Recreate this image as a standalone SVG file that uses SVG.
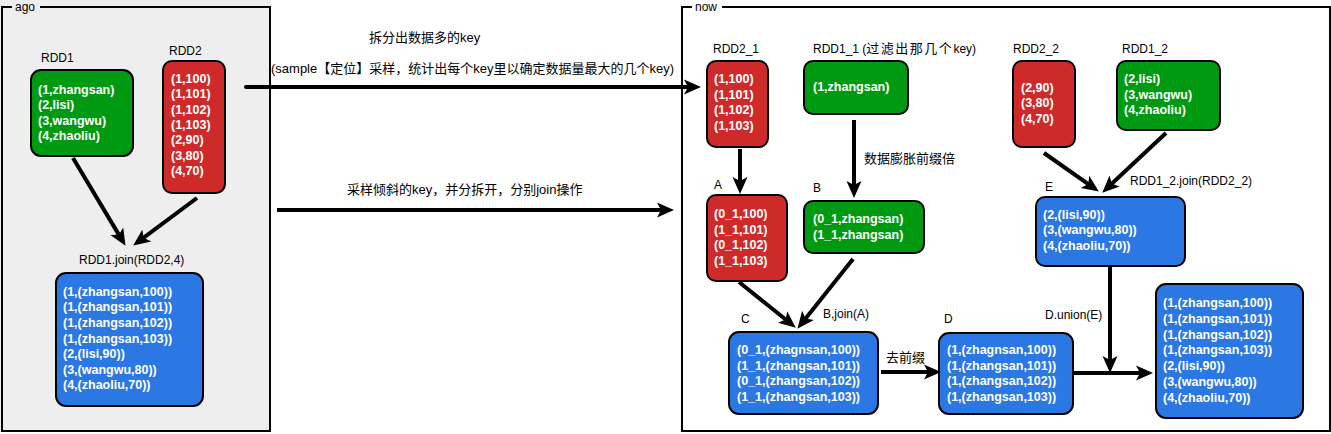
<svg xmlns="http://www.w3.org/2000/svg" width="1331" height="434" viewBox="0 0 1331 434">
<style>
.bx{stroke:#000;stroke-width:2}
.g{fill:#009a12}
.r{fill:#cf2a2a}
.b{fill:#2b78e4}
.t{fill:#fff;font-family:"Liberation Sans","Noto Sans CJK SC",sans-serif;font-size:12.5px;font-weight:bold}
.l{fill:#000;font-family:"Liberation Sans","Noto Sans CJK SC",sans-serif;font-size:12px}
.c{fill:#000;font-family:"Liberation Sans","Noto Sans CJK SC",sans-serif;font-size:13px}
.fr{fill:none;stroke:#000;stroke-width:2}
.ar{fill:none;stroke:#000;stroke-width:4;marker-end:url(#ah)}
</style>
<defs>
<marker id="ah" markerUnits="userSpaceOnUse" markerWidth="18" markerHeight="18" viewBox="0 0 18 18" refX="8" refY="9" orient="auto">
<path d="M0,1.5 L17,9 L0,16.5 L4,9 Z" fill="#000"/>
</marker>
</defs>
<g id="panel-ago">
<rect x="0" y="0" width="271" height="432" fill="#eeeeee"/>
<path class="fr" d="M12,7 H2 V431 H270 V7 H40"/>
<text x="15" y="11" class="l" font-size="11">ago</text>
</g>
<g id="panel-now">
<path class="fr" d="M692,7 H682 V431 H1330 V7 H722"/>
<text x="695" y="11" class="l" font-size="11">now</text>
</g>
<g id="rdd1">
<text x="41" y="62" class="l">RDD1</text>
<rect x="31" y="70" width="102" height="86" rx="10" class="bx g"/>
<text class="t"><tspan x="38" y="94">(1,zhangsan)</tspan><tspan x="38" y="109">(2,lisi)</tspan><tspan x="38" y="125">(3,wangwu)</tspan><tspan x="38" y="140">(4,zhaoliu)</tspan></text>
</g>
<g id="rdd2">
<text x="169" y="55" class="l">RDD2</text>
<rect x="163" y="61" width="62" height="132" rx="9" class="bx r"/>
<text class="t"><tspan x="171" y="83">(1,100)</tspan><tspan x="171" y="98">(1,101)</tspan><tspan x="171" y="114">(1,102)</tspan><tspan x="171" y="129">(1,103)</tspan><tspan x="171" y="144">(2,90)</tspan><tspan x="171" y="160">(3,80)</tspan><tspan x="171" y="175">(4,70)</tspan></text>
</g>
<g id="join-left">
<text x="79" y="264" class="l">RDD1.join(RDD2,4)</text>
<rect x="56" y="273" width="147" height="133" rx="10" class="bx b"/>
<text class="t"><tspan x="63" y="296">(1,(zhangsan,100))</tspan><tspan x="63" y="311">(1,(zhangsan,101))</tspan><tspan x="63" y="327">(1,(zhangsan,102))</tspan><tspan x="63" y="343">(1,(zhangsan,103))</tspan><tspan x="63" y="358">(2,(lisi,90))</tspan><tspan x="63" y="374">(3,(wangwu,80))</tspan><tspan x="63" y="389">(4,(zhaoliu,70))</tspan></text>
</g>
<g id="rdd2_1">
<text x="713" y="53" class="l">RDD2_1</text>
<rect x="707" y="61" width="61" height="86" rx="9" class="bx r"/>
<text class="t"><tspan x="714" y="83">(1,100)</tspan><tspan x="714" y="99">(1,101)</tspan><tspan x="714" y="114">(1,102)</tspan><tspan x="714" y="130">(1,103)</tspan></text>
</g>
<g id="rdd1_1">
<text x="813" y="53" class="l" font-size="12.5">RDD1_1 (<tspan font-size="13" letter-spacing="1.5">过滤出那几个</tspan>key)</text>
<rect x="804" y="61" width="104" height="53" rx="9" class="bx g"/>
<text x="813" y="91" class="t">(1,zhangsan)</text>
</g>
<g id="rdd2_2">
<text x="1013" y="53" class="l">RDD2_2</text>
<rect x="1013" y="61" width="62" height="86" rx="9" class="bx r"/>
<text class="t"><tspan x="1021" y="92">(2,90)</tspan><tspan x="1021" y="107">(3,80)</tspan><tspan x="1021" y="123">(4,70)</tspan></text>
</g>
<g id="rdd1_2">
<text x="1122" y="53" class="l">RDD1_2</text>
<rect x="1117" y="61" width="103" height="69" rx="9" class="bx g"/>
<text class="t"><tspan x="1124" y="83">(2,lisi)</tspan><tspan x="1124" y="99">(3,wangwu)</tspan><tspan x="1124" y="114">(4,zhaoliu)</tspan></text>
</g>
<g id="node-a">
<text x="714" y="189" class="l">A</text>
<rect x="707" y="195" width="80" height="86" rx="9" class="bx r"/>
<text class="t"><tspan x="714" y="218">(0_1,100)</tspan><tspan x="714" y="234">(1_1,101)</tspan><tspan x="714" y="249">(0_1,102)</tspan><tspan x="714" y="265">(1_1,103)</tspan></text>
</g>
<g id="node-b">
<text x="813" y="192" class="l">B</text>
<rect x="804" y="201" width="120" height="52" rx="9" class="bx g"/>
<text class="t"><tspan x="813" y="223">(0_1,zhangsan)</tspan><tspan x="813" y="239">(1_1,zhangsan)</tspan></text>
</g>
<g id="node-e">
<text x="1045" y="191" class="l">E</text>
<text x="1130" y="185" class="l">RDD1_2.join(RDD2_2)</text>
<rect x="1036" y="197" width="149" height="69" rx="9" class="bx b"/>
<text class="t"><tspan x="1043" y="219">(2,(lisi,90))</tspan><tspan x="1043" y="234">(3,(wangwu,80))</tspan><tspan x="1043" y="250">(4,(zhaoliu,70))</tspan></text>
</g>
<g id="node-c">
<text x="741" y="323" class="l">C</text>
<text x="823" y="318" class="l">B,join(A)</text>
<rect x="729" y="332" width="149" height="82" rx="10" class="bx b"/>
<text class="t"><tspan x="737" y="354">(0_1,(zhagnsan,100))</tspan><tspan x="737" y="370">(1_1,(zhangsan,101))</tspan><tspan x="737" y="385">(0_1,(zhangsan,102))</tspan><tspan x="737" y="401">(1_1,(zhangsan,103))</tspan></text>
</g>
<g id="node-d">
<text x="944" y="323" class="l">D</text>
<rect x="939" y="333" width="134" height="81" rx="10" class="bx b"/>
<text class="t"><tspan x="947" y="354">(1,(zhagnsan,100))</tspan><tspan x="947" y="370">(1,(zhangsan,101))</tspan><tspan x="947" y="385">(1,(zhangsan,102))</tspan><tspan x="947" y="401">(1,(zhangsan,103))</tspan></text>
</g>
<g id="node-final">
<rect x="1156" y="284" width="147" height="134" rx="10" class="bx b"/>
<text class="t"><tspan x="1163" y="307">(1,(zhangsan,100))</tspan><tspan x="1163" y="323">(1,(zhangsan,101))</tspan><tspan x="1163" y="339">(1,(zhangsan,102))</tspan><tspan x="1163" y="354">(1,(zhangsan,103))</tspan><tspan x="1163" y="370">(2,(lisi,90))</tspan><tspan x="1163" y="386">(3,(wangwu,80))</tspan><tspan x="1163" y="402">(4,(zhaoliu,70))</tspan></text>
</g>
<g id="connectors">
<path class="ar" d="M73,158 L120.9,238.1"/>
<path class="ar" d="M197,198 L140.4,240.2"/>
<path class="ar" stroke-linecap="round" d="M246,87 H692"/>
<path class="ar" d="M277,210 H665"/>
<path class="ar" d="M740,149 V185"/>
<path class="ar" d="M854,120 V189"/>
<path class="ar" d="M739,282 L788.8,322"/>
<path class="ar" d="M853,259 L803,321.7"/>
<path class="ar" d="M881,372 H932"/>
<path class="ar" d="M1073,373 H1144"/>
<path class="ar" d="M1110,266 V364"/>
<path class="ar" d="M1044,153 L1091.5,186.4"/>
<path class="ar" d="M1166,133 L1108.8,186.5"/>
<text x="369" y="42" class="c">拆分出数据多的key</text>
<text x="271" y="73" class="c">(sample【定位】采样，统计出每个key里以确定数据量最大的几个key)</text>
<text x="347" y="194" class="c">采样倾斜的key，并分拆开，分别join操作</text>
<text x="864" y="163" class="c">数据膨胀前缀倍</text>
<text x="886" y="362" class="c">去前缀</text>
<text x="1045" y="319" class="l">D.union(E)</text>
</g>
</svg>
